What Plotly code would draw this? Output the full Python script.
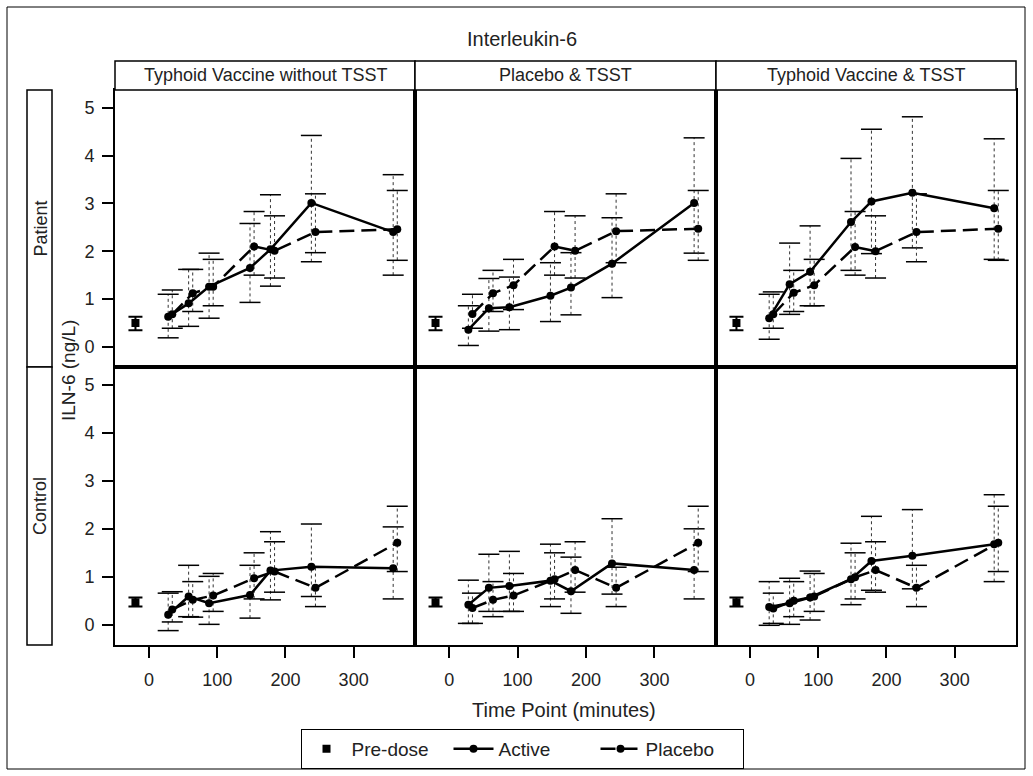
import plotly.graph_objects as go

W, H = 1033, 776

# ---------------- data ----------------
time_points = [30, 60, 90, 150, 180, 240, 360]
predose_time = -20
col_titles = ["Typhoid Vaccine without TSST", "Placebo & TSST", "Typhoid Vaccine & TSST"]
row_titles = ["Patient", "Control"]
x_ticks = [0, 100, 200, 300]
y_ticks = [0, 1, 2, 3, 4, 5]

# pre-dose (mean, upper, lower) per row
predose_patient = [0.50, 0.63, 0.35]
predose_control = [0.47, 0.57, 0.38]

# Patient / Typhoid Vaccine without TSST
pat_tv_active = [0.63, 0.91, 1.26, 1.65, 2.04, 3.01, 2.40]
pat_tv_active_hi = [1.10, 1.62, 1.96, 2.58, 3.18, 4.42, 3.60]
pat_tv_active_lo = [0.19, 0.43, 0.60, 0.93, 1.27, 1.78, 1.50]
pat_tv_placebo = [0.68, 1.12, 1.26, 2.10, 2.01, 2.40, 2.46]
pat_tv_placebo_hi = [1.19, 1.62, 1.83, 2.83, 2.74, 3.20, 3.27]
pat_tv_placebo_lo = [0.39, 0.74, 0.86, 1.50, 1.44, 1.97, 1.81]

# Patient / Placebo & TSST
pat_pl_active = [0.36, 0.81, 0.83, 1.07, 1.24, 1.74, 3.01]
pat_pl_active_hi = [0.86, 1.43, 1.46, 1.76, 1.97, 2.70, 4.37]
pat_pl_active_lo = [0.03, 0.33, 0.36, 0.53, 0.67, 1.03, 1.96]
pat_pl_placebo = [0.69, 1.12, 1.29, 2.10, 2.01, 2.42, 2.47]
pat_pl_placebo_hi = [1.10, 1.60, 1.83, 2.83, 2.74, 3.20, 3.27]
pat_pl_placebo_lo = [0.39, 0.74, 0.78, 1.50, 1.44, 1.76, 1.81]

# Patient / Typhoid Vaccine & TSST
pat_tt_active = [0.60, 1.31, 1.57, 2.61, 3.04, 3.22, 2.90]
pat_tt_active_hi = [1.10, 2.17, 2.53, 3.94, 4.55, 4.81, 4.35]
pat_tt_active_lo = [0.16, 0.68, 0.86, 1.60, 1.95, 2.07, 1.83]
pat_tt_placebo = [0.68, 1.13, 1.29, 2.09, 2.00, 2.40, 2.47]
pat_tt_placebo_hi = [1.15, 1.60, 1.83, 2.83, 2.74, 3.20, 3.27]
pat_tt_placebo_lo = [0.39, 0.74, 0.86, 1.50, 1.44, 1.78, 1.81]

# Control / Typhoid Vaccine without TSST
ctl_tv_active = [0.21, 0.59, 0.45, 0.62, 1.13, 1.21, 1.18]
ctl_tv_active_hi = [0.66, 1.24, 1.01, 1.24, 1.94, 2.10, 2.04]
ctl_tv_active_lo = [-0.12, 0.17, 0.01, 0.14, 0.52, 0.59, 0.54]
ctl_tv_placebo = [0.32, 0.52, 0.61, 0.97, 1.11, 0.77, 1.71]
ctl_tv_placebo_hi = [0.69, 0.90, 1.07, 1.50, 1.73, 1.20, 2.47]
ctl_tv_placebo_lo = [0.06, 0.16, 0.28, 0.54, 0.68, 0.38, 1.11]

# Control / Placebo & TSST
ctl_pl_active = [0.42, 0.77, 0.81, 0.92, 0.70, 1.28, 1.14]
ctl_pl_active_hi = [0.93, 1.47, 1.53, 1.68, 1.41, 2.21, 2.00]
ctl_pl_active_lo = [0.03, 0.28, 0.28, 0.38, 0.24, 0.64, 0.54]
ctl_pl_placebo = [0.35, 0.52, 0.61, 0.95, 1.14, 0.77, 1.71]
ctl_pl_placebo_hi = [0.66, 0.90, 1.07, 1.50, 1.73, 1.20, 2.47]
ctl_pl_placebo_lo = [0.03, 0.17, 0.28, 0.54, 0.68, 0.38, 1.11]

# Control / Typhoid Vaccine & TSST
ctl_tt_active = [0.37, 0.45, 0.57, 0.95, 1.33, 1.44, 1.68]
ctl_tt_active_hi = [0.90, 0.97, 1.12, 1.70, 2.26, 2.40, 2.71]
ctl_tt_active_lo = [-0.01, 0.01, 0.10, 0.42, 0.72, 0.75, 0.90]
ctl_tt_placebo = [0.34, 0.50, 0.59, 0.99, 1.14, 0.77, 1.71]
ctl_tt_placebo_hi = [0.66, 0.90, 1.07, 1.50, 1.73, 1.24, 2.47]
ctl_tt_placebo_lo = [0.03, 0.17, 0.28, 0.54, 0.68, 0.38, 1.11]

panels = [
    [(pat_tv_active, pat_tv_active_hi, pat_tv_active_lo, pat_tv_placebo, pat_tv_placebo_hi, pat_tv_placebo_lo),
     (pat_pl_active, pat_pl_active_hi, pat_pl_active_lo, pat_pl_placebo, pat_pl_placebo_hi, pat_pl_placebo_lo),
     (pat_tt_active, pat_tt_active_hi, pat_tt_active_lo, pat_tt_placebo, pat_tt_placebo_hi, pat_tt_placebo_lo)],
    [(ctl_tv_active, ctl_tv_active_hi, ctl_tv_active_lo, ctl_tv_placebo, ctl_tv_placebo_hi, ctl_tv_placebo_lo),
     (ctl_pl_active, ctl_pl_active_hi, ctl_pl_active_lo, ctl_pl_placebo, ctl_pl_placebo_hi, ctl_pl_placebo_lo),
     (ctl_tt_active, ctl_tt_active_hi, ctl_tt_active_lo, ctl_tt_placebo, ctl_tt_placebo_hi, ctl_tt_placebo_lo)],
]
predose_rows = [predose_patient, predose_control]

# ---------------- layout helpers ----------------
def px(x):
    return x / W

def py(y):
    return 1 - y / H

col_px = [(115, 415), (415, 716), (716, 1016)]
row_px = [(90, 367), (367, 645)]
ACTIVE_OFF, PLACEBO_OFF = -2, 4
FONT = "Liberation Sans"
TXT = "#222"

fig = go.Figure()

layout = dict(
    width=W, height=H, margin=dict(l=0, r=0, t=0, b=0),
    paper_bgcolor="white", plot_bgcolor="white",
    font=dict(family=FONT, color=TXT),
    showlegend=True,
)

def whisker_xy(xs, hi, lo):
    wx, wy = [], []
    for x, h, l in zip(xs, hi, lo):
        wx += [x, x, None]
        wy += [l, h, None]
    return wx, wy

idx = 0
for r in range(2):
    for c in range(3):
        idx += 1
        xa = "x" if idx == 1 else f"x{idx}"
        ya = "y" if idx == 1 else f"y{idx}"
        xkey = "xaxis" if idx == 1 else f"xaxis{idx}"
        ykey = "yaxis" if idx == 1 else f"yaxis{idx}"
        layout[xkey] = dict(
            domain=[px(col_px[c][0]), px(col_px[c][1])], anchor=ya,
            range=[-50, 390], showgrid=False, zeroline=False,
            showline=True, mirror=True, linecolor="black", linewidth=2,
            tickvals=x_ticks, ticks="outside" if r == 1 else "", ticklen=11,
            tickwidth=1.5, tickcolor="black", ticklabelstandoff=6,
            showticklabels=(r == 1), tickfont=dict(size=18, color=TXT),
        )
        layout[ykey] = dict(
            domain=[py(row_px[r][1]), py(row_px[r][0])], anchor=xa,
            range=[-0.42, 5.37], showgrid=False, zeroline=False,
            showline=True, mirror=True, linecolor="black", linewidth=2,
            tickvals=y_ticks, ticks="outside" if c == 0 else "", ticklen=11,
            tickwidth=1.5, tickcolor="black", ticklabelstandoff=4,
            showticklabels=(c == 0), tickfont=dict(size=18, color=TXT),
        )

        am, ah, al, pm, ph, pl = panels[r][c]
        ax_ = [t + ACTIVE_OFF for t in time_points]
        px_ = [t + PLACEBO_OFF for t in time_points]
        first = (idx == 1)

        # whiskers (dotted) with solid caps
        for xs, hi, lo in ((ax_, ah, al), (px_, ph, pl)):
            wx, wy = whisker_xy(xs, hi, lo)
            fig.add_trace(go.Scatter(x=wx, y=wy, mode="lines", xaxis=xa, yaxis=ya,
                                     line=dict(color="#333", width=1, dash="dot"),
                                     showlegend=False, hoverinfo="skip"))
            fig.add_trace(go.Scatter(x=xs + xs, y=hi + lo, mode="markers", xaxis=xa, yaxis=ya,
                                     marker=dict(symbol="line-ew", size=15,
                                                 line=dict(color="black", width=1.5)),
                                     showlegend=False, hoverinfo="skip"))

        pre = predose_rows[r]
        fig.add_trace(go.Scatter(
            x=[predose_time], y=[pre[0]], mode="markers", xaxis=xa, yaxis=ya,
            name="Pre-dose", legendrank=1, showlegend=first,
            marker=dict(symbol="square", size=8, color="black"),
            error_y=dict(type="data", symmetric=False, array=[pre[1] - pre[0]],
                         arrayminus=[pre[0] - pre[2]], color="black", thickness=2, width=7),
        ))
        fig.add_trace(go.Scatter(
            x=px_, y=pm, mode="lines+markers", xaxis=xa, yaxis=ya,
            name="Placebo", legendrank=3, showlegend=first,
            line=dict(color="black", width=2.5, dash="15px,7px"),
            marker=dict(symbol="circle", size=8, color="black"),
        ))
        fig.add_trace(go.Scatter(
            x=ax_, y=am, mode="lines+markers", xaxis=xa, yaxis=ya,
            name="Active", legendrank=2, showlegend=first,
            line=dict(color="black", width=2.5),
            marker=dict(symbol="circle", size=8, color="black"),
        ))

shapes = []
annotations = []
# outer border
shapes.append(dict(type="rect", xref="paper", yref="paper",
                   x0=px(7), x1=px(1025), y0=py(769), y1=py(7),
                   line=dict(color="black", width=1)))
# column header strips
for c in range(3):
    shapes.append(dict(type="rect", xref="paper", yref="paper",
                       x0=px(col_px[c][0]), x1=px(col_px[c][1]), y0=py(90), y1=py(61),
                       line=dict(color="black", width=1.5), fillcolor="white"))
    annotations.append(dict(x=px((col_px[c][0] + col_px[c][1]) / 2), y=py(75),
                            xref="paper", yref="paper", text=col_titles[c], showarrow=False,
                            font=dict(size=18, family=FONT, color=TXT),
                            xanchor="center", yanchor="middle"))
# row header boxes
for r in range(2):
    shapes.append(dict(type="rect", xref="paper", yref="paper",
                       x0=px(27), x1=px(52), y0=py(row_px[r][1]), y1=py(row_px[r][0]),
                       line=dict(color="black", width=1.5), fillcolor="white"))
    annotations.append(dict(x=px(40), y=py((row_px[r][0] + row_px[r][1]) / 2),
                            xref="paper", yref="paper", text=row_titles[r], showarrow=False,
                            textangle=-90, font=dict(size=18, family=FONT, color=TXT),
                            xanchor="center", yanchor="middle"))
# title
annotations.append(dict(x=px(522), y=py(39), xref="paper", yref="paper", text="Interleukin-6",
                        showarrow=False, font=dict(size=20, family=FONT, color=TXT),
                        xanchor="center", yanchor="middle"))
# axis titles
annotations.append(dict(x=px(68), y=py(371), xref="paper", yref="paper", text="ILN-6 (ng/L)",
                        showarrow=False, textangle=-90, font=dict(size=19, family=FONT, color=TXT),
                        xanchor="center", yanchor="middle"))
annotations.append(dict(x=px(564), y=py(710), xref="paper", yref="paper",
                        text="Time Point (minutes)", showarrow=False,
                        font=dict(size=20, family=FONT, color=TXT), xanchor="center", yanchor="middle"))

layout["shapes"] = shapes
layout["annotations"] = annotations
layout["legend"] = dict(orientation="h", x=px(522), y=py(729), xanchor="center", yanchor="top",
                        bordercolor="black", borderwidth=1, bgcolor="white",
                        font=dict(size=19, family=FONT, color=TXT), itemwidth=40,
                        entrywidth=92, entrywidthmode="pixels",
                        traceorder="normal", tracegroupgap=0)

fig.update_layout(**layout)
fig.write_html("out.html")
